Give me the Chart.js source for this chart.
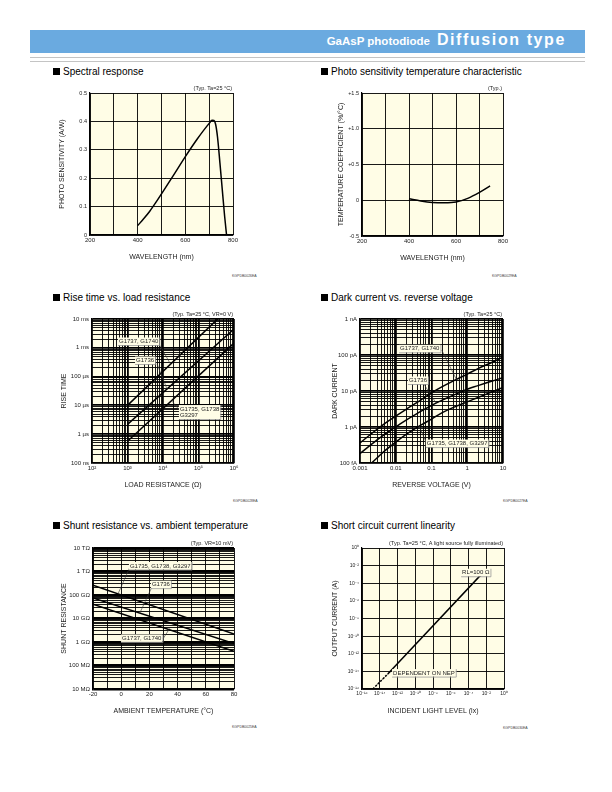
<!DOCTYPE html>
<html lang="en">
<head>
<meta charset="UTF-8">
<title>GaAsP photodiode - Diffusion type</title>
<script src="https://cdn.jsdelivr.net/npm/chart.js"></script>
<style>
  body { margin: 0; background: #fff; font-family: "Liberation Sans", Arial, sans-serif; }
  #page { position: relative; width: 612px; height: 792px; overflow: hidden; }
  .band { position: absolute; left: 30px; top: 30px; width: 555px; height: 23px; background: #6aaae0; }
  .band .txt { position: absolute; right: 19px; bottom: 4px; color: #fff; font-weight: bold; white-space: nowrap; }
  .band .sm { font-size: 11.5px; margin-right: 7px; }
  .band .lg { font-size: 16px; letter-spacing: 1.6px; }
  .rule { position: absolute; left: 30px; width: 555px; height: 1px; background: #c4c4c4; }
  .ttl { position: absolute; font-size: 10px; line-height: 10px; color: #000; white-space: nowrap; }
  .ttl i { position: absolute; left: -10px; top: 1px; width: 7px; height: 7px; background: #000; }
  .code { position: absolute; font-size: 3.5px; color: #444; white-space: nowrap; }
  canvas { position: absolute; }
</style>
</head>
<body>
<div id="page">
  <div class="band"><div class="txt"><span class="sm">GaAsP photodiode</span><span class="lg">Diffusion type</span></div></div>
  <div class="rule" style="top:57px"></div>
  <div class="rule" style="top:61px"></div>

  <div class="ttl" style="left:63px;top:66.5px"><i></i>Spectral response</div>
  <div class="ttl" style="left:331px;top:66.5px"><i></i>Photo sensitivity temperature characteristic</div>
  <div class="ttl" style="left:63px;top:292.5px"><i></i>Rise time vs. load resistance</div>
  <div class="ttl" style="left:331px;top:292.5px"><i></i>Dark current vs. reverse voltage</div>
  <div class="ttl" style="left:63px;top:520.5px"><i></i>Shunt resistance vs. ambient temperature</div>
  <div class="ttl" style="left:331px;top:520.5px"><i></i>Short circuit current linearity</div>

  <canvas id="spectral"></canvas>
  <canvas id="tempco"></canvas>
  <canvas id="rise"></canvas>
  <canvas id="dark"></canvas>
  <canvas id="shunt"></canvas>
  <canvas id="linear"></canvas>

  <div class="code" style="left:232px;top:274px">KGPDB0026EA</div>
  <div class="code" style="left:492px;top:274px">KGPDB0029EA</div>
  <div class="code" style="left:233px;top:499px">KGPDB0028EA</div>
  <div class="code" style="left:503px;top:499px">KGPDB0027EA</div>
  <div class="code" style="left:232px;top:725px">KGPDB0025EA</div>
  <div class="code" style="left:503px;top:726px">KGPDB0030EA</div>
</div>

<script>
// ---- spectral response ----
const spectralWl = [400, 425, 450, 475, 500, 550, 600, 650, 700, 712, 720, 727, 735, 745, 755, 765, 773];
const spectralSens = [0.033, 0.057, 0.083, 0.113, 0.145, 0.21, 0.276, 0.338, 0.393, 0.404, 0.403, 0.39, 0.345, 0.255, 0.16, 0.065, 0];
const spectralXTicks = [200, 300, 400, 500, 600, 700, 800];
const spectralXLabels = ['200', '', '400', '', '600', '', '800'];
const spectralYTicks = [0, 0.1, 0.2, 0.3, 0.4, 0.5];
const spectralYLabels = ['0', '0.1', '0.2', '0.3', '0.4', '0.5'];

// ---- temperature coefficient ----
const tempcoWl = [400, 450, 500, 550, 600, 650, 700, 745];
const tempcoVal = [0.02, -0.01, -0.03, -0.035, -0.025, 0.027, 0.11, 0.2];
const tempcoXTicks = [200, 300, 400, 500, 600, 700, 800];
const tempcoXLabels = ['200', '', '400', '', '600', '', '800'];
const tempcoYTicks = [-0.5, 0, 0.5, 1.0, 1.5];
const tempcoYLabels = ['-0.5', '0', '+0.5', '+1.0', '+1.5'];

// ---- rise time vs load resistance ----
const riseLoad = [1e3, 1e6];
const riseG1737 = [1e-5, 3.5e-2];
const riseG1736 = [2.2e-6, 4.5e-3];
const riseG1735 = [5.7e-7, 1.45e-3];
const riseXLabels = ['10\u00b2', '10\u00b3', '10\u2074', '10\u2075', '10\u2076'];
const riseYLabels = ['100 ns', '1 \u00b5s', '10 \u00b5s', '100 \u00b5s', '1 ms', '10 ms'];

// ---- dark current vs reverse voltage ----
const darkV = [0.001, 0.002, 0.005, 0.01, 0.02, 0.05, 0.1, 0.2, 0.5, 1, 2, 5, 10];
const darkG1737 = [3.6e-13, 6.3e-13, 1.26e-12, 2.0e-12, 3.16e-12, 5.6e-12, 8.9e-12, 1.32e-11, 2.1e-11, 2.95e-11, 4.2e-11, 6.3e-11, 8.9e-11];
const darkG1736 = [1.82e-13, 3.2e-13, 6.3e-13, 1.0e-12, 1.58e-12, 2.7e-12, 4.0e-12, 5.6e-12, 8.3e-12, 1.12e-11, 1.41e-11, 1.9e-11, 2.35e-11];
const darkVLow = [0.0021, 0.005, 0.01, 0.02, 0.05, 0.1, 0.2, 0.5, 1, 2, 5, 10];
const darkG1735 = [1.0e-13, 2.2e-13, 3.8e-13, 6.3e-13, 1.12e-12, 1.66e-12, 2.5e-12, 3.8e-12, 5.0e-12, 6.6e-12, 9.5e-12, 1.26e-11];
const darkXLabels = ['0.001', '0.01', '0.1', '1', '10'];
const darkYLabels = ['100 fA', '1 pA', '10 pA', '100 pA', '1 nA'];

// ---- shunt resistance vs ambient temperature ----
const shuntTemp = [-20, 80];
const shuntG1735 = [2.6e11, 2.2e9];
const shuntG1736 = [7.4e10, 8.5e8];
const shuntG1737 = [4.1e10, 4.0e8];
const shuntXTicks = [-20, -10, 0, 10, 20, 30, 40, 50, 60, 70, 80];
const shuntXLabels = ['-20', '', '0', '', '20', '', '40', '', '60', '', '80'];
const shuntYLabels = ['10 M\u03a9', '100 M\u03a9', '1 G\u03a9', '10 G\u03a9', '100 G\u03a9', '1 T\u03a9', '10 T\u03a9'];

// ---- short circuit current linearity ----
const linLight = [7.9e-14, 1.6e-3, 5e-3, 1.26e-2];
const linCurrent = [5e-15, 5.6e-4, 1.2e-3, 1.8e-3];
const linNepLight = [1.7e-15, 7.9e-14];
const linNepCurrent = [1e-16, 5e-15];
const linNepEdgeLight = [3.5e-15, 2.2e-13];
const linNepEdgeCurrent = [2.2e-16, 1.2e-14];
const linXLabels = ['10\u207b\u00b9\u2076', '10\u207b\u00b9\u2074', '10\u207b\u00b9\u00b2', '10\u207b\u00b9\u2070', '10\u207b\u2078', '10\u207b\u2076', '10\u207b\u2074', '10\u207b\u00b2', '10\u2070'];
const linYLabels = linXLabels;

// ---- helpers ----
const CREAM = '#fffde6';
const FONT = '"Liberation Sans", Arial, sans-serif';
const PT = 14, PR = 16, XH = 26;
Chart.defaults.font.family = FONT;
Chart.defaults.color = '#222';
Chart.defaults.animation = false;

const isDecade = v => Math.abs(Math.log10(v) - Math.round(Math.log10(v))) < 1e-6;

// 1..9 x 10^n grid values for a log axis
function logTicks(lo, hi) {
  const t = [];
  for (let e = lo; e < hi; e++) {
    for (let m = 1; m < 10; m++) t.push(m * Math.pow(10, e));
  }
  t.push(Math.pow(10, hi));
  return t;
}
function decadeLabels(ticks, lo, labels) {
  return ticks.map(v => isDecade(v) ? labels[Math.round(Math.log10(v)) - lo] : '');
}

function place(id, box) {
  const c = document.getElementById(id);
  const w = box.yw + (box.R - box.L) + PR;
  const h = PT + (box.B - box.T) + XH;
  c.width = w; c.height = h;
  c.style.width = w + 'px'; c.style.height = h + 'px';
  c.style.left = (box.L - box.yw) + 'px';
  c.style.top = (box.T - PT) + 'px';
  return c;
}

function axis(o) {
  return {
    type: o.type || 'linear',
    min: o.min, max: o.max,
    title: { display: true, text: o.title, font: { size: 7 }, padding: 0, color: '#222' },
    border: { color: '#000', width: 1.2 },
    grid: { color: '#000', drawTicks: false, lineWidth: o.lw || 0.9 },
    ticks: {
      font: { size: o.fs || 6 }, padding: o.pad, autoSkip: false, maxRotation: 0, minRotation: 0,
      color: '#222', callback: (v, i) => o.labels[i]
    },
    afterBuildTicks: sc => { sc.ticks = o.ticks.map(v => ({ value: v })); },
    afterFit: sc => { if (sc.isHorizontal()) sc.height = XH; else sc.width = o.size; }
  };
}

const decadeWidth = (thick, thin) => c => (c.tick && isDecade(c.tick.value)) ? thick : thin;

// cream plot area, top note and curve labels
const paper = {
  id: 'paper',
  beforeDraw(chart) {
    const { ctx, chartArea: a } = chart;
    ctx.save();
    ctx.fillStyle = CREAM;
    ctx.fillRect(a.left, a.top, a.right - a.left, a.bottom - a.top);
    ctx.restore();
  },
  afterDatasetsDraw(chart, args, o) {
    const { ctx, chartArea: a } = chart;
    const sx = chart.scales.x, sy = chart.scales.y;
    ctx.save();
    if (o.note) {
      ctx.font = '5.5px ' + FONT;
      ctx.fillStyle = '#222';
      ctx.textAlign = 'right';
      ctx.textBaseline = 'alphabetic';
      ctx.fillText(o.note, a.right - 1, a.top - 3);
    }
    (o.labels || []).forEach(l => {
      ctx.font = '6px ' + FONT;
      ctx.textAlign = 'left';
      ctx.textBaseline = 'top';
      const x = sx.getPixelForValue(l.x), y = sy.getPixelForValue(l.y);
      const w = Math.max(...l.text.map(t => ctx.measureText(t).width));
      const h = l.text.length * 6.5;
      if (l.to) {
        ctx.strokeStyle = '#333';
        ctx.lineWidth = 0.6;
        ctx.beginPath();
        ctx.moveTo(sx.getPixelForValue(l.from.x), sy.getPixelForValue(l.from.y));
        ctx.lineTo(sx.getPixelForValue(l.to.x), sy.getPixelForValue(l.to.y));
        ctx.stroke();
      }
      ctx.fillStyle = CREAM;
      ctx.fillRect(x - 1, y - 1, w + 2, h + 1);
      ctx.strokeStyle = '#999';
      ctx.lineWidth = 0.8;
      ctx.beginPath();
      ctx.moveTo(x - 1, y + h + 0.5);
      ctx.lineTo(x + w + 1.5, y + h + 0.5);
      ctx.lineTo(x + w + 1.5, y - 1);
      ctx.stroke();
      ctx.fillStyle = '#222';
      l.text.forEach((t, i) => ctx.fillText(t, x, y + i * 6.5));
    });
    ctx.restore();
  }
};

function line(xs, ys, extra) {
  return Object.assign({
    data: xs.map((x, i) => ({ x, y: ys[i] })),
    borderColor: '#000', borderWidth: 1.5, pointRadius: 0, fill: false
  }, extra || {});
}

function build(id, box, datasets, x, y, note, labels) {
  const c = place(id, box);
  new Chart(c.getContext('2d'), {
    type: 'line',
    data: { datasets },
    options: {
      responsive: false,
      layout: { padding: { left: 0, top: PT, right: PR, bottom: 0 } },
      plugins: { legend: { display: false }, tooltip: { enabled: false }, paper: { note, labels } },
      scales: { x, y }
    },
    plugins: [paper]
  });
}

// ---- 1. spectral response ----
build('spectral', { L: 90, T: 93, R: 233, B: 235, yw: 32 },
  [line(spectralWl, spectralSens, { cubicInterpolationMode: 'monotone' })],
  axis({ min: 200, max: 800, ticks: spectralXTicks, labels: spectralXLabels, title: 'WAVELENGTH (nm)', pad: 2 }),
  axis({ min: 0, max: 0.5, ticks: spectralYTicks, labels: spectralYLabels, title: 'PHOTO SENSITIVITY (A/W)', pad: 3, size: 32, fs: 5.5 }),
  '(Typ. Ta=25 \u00b0C)', []);

// ---- 2. temperature coefficient ----
build('tempco', { L: 362, T: 93, R: 503, B: 236, yw: 25 },
  [line(tempcoWl, tempcoVal, { cubicInterpolationMode: 'monotone' })],
  axis({ min: 200, max: 800, ticks: tempcoXTicks, labels: tempcoXLabels, title: 'WAVELENGTH (nm)', pad: 2 }),
  axis({ min: -0.5, max: 1.5, ticks: tempcoYTicks, labels: tempcoYLabels, title: 'TEMPERATURE COEFFICIENT (%/\u00b0C)', pad: 3, size: 25, fs: 5.5 }),
  '(Typ.)', []);

// ---- 3. rise time ----
const riseXT = logTicks(2, 6), riseYT = logTicks(-7, -2);
build('rise', { L: 92, T: 319, R: 234, B: 463, yw: 32 },
  [line(riseLoad, riseG1737), line(riseLoad, riseG1736), line(riseLoad, riseG1735)],
  Object.assign(axis({ type: 'logarithmic', min: 1e2, max: 1e6, ticks: riseXT, labels: decadeLabels(riseXT, 2, riseXLabels), title: 'LOAD RESISTANCE (\u03a9)', pad: 2 }),
    { grid: { color: '#000', drawTicks: false, lineWidth: decadeWidth(1.8, 0.9) } }),
  Object.assign(axis({ type: 'logarithmic', min: 1e-7, max: 1e-2, ticks: riseYT, labels: decadeLabels(riseYT, -7, riseYLabels), title: 'RISE TIME', pad: 3, size: 32 }),
    { grid: { color: '#000', drawTicks: false, lineWidth: decadeWidth(1.8, 0.9) } }),
  '(Typ. Ta=25 \u00b0C, VR=0 V)',
  [
    { text: ['G1737, G1740'], x: 575, y: 2.1e-3, from: { x: 8300, y: 1.2e-3 }, to: { x: 1.6e4, y: 2.8e-4 } },
    { text: ['G1736'], x: 1740, y: 4.6e-4, from: { x: 6800, y: 2.75e-4 }, to: { x: 1.3e4, y: 3.7e-5 } },
    { text: ['G1735, G1738', 'G3297'], x: 3.0e4, y: 9.5e-6, from: { x: 3.0e4, y: 6.5e-6 }, to: { x: 1.8e4, y: 1.4e-5 } }
  ]);

// ---- 4. dark current ----
const darkXT = logTicks(-3, 1), darkYT = logTicks(-13, -9);
build('dark', { L: 360, T: 319, R: 503, B: 463, yw: 29 },
  [line(darkV, darkG1737, { tension: 0.4 }), line(darkV, darkG1736, { tension: 0.4 }), line(darkVLow, darkG1735, { tension: 0.4 })],
  Object.assign(axis({ type: 'logarithmic', min: 1e-3, max: 10, ticks: darkXT, labels: decadeLabels(darkXT, -3, darkXLabels), title: 'REVERSE VOLTAGE (V)', pad: 2 }),
    { grid: { color: '#000', drawTicks: false, lineWidth: decadeWidth(1.8, 0.9) } }),
  Object.assign(axis({ type: 'logarithmic', min: 1e-13, max: 1e-9, ticks: darkYT, labels: decadeLabels(darkYT, -13, darkYLabels), title: 'DARK CURRENT', pad: 3, size: 29 }),
    { grid: { color: '#000', drawTicks: false, lineWidth: decadeWidth(1.8, 0.9) } }),
  '(Typ. Ta=25 \u00b0C)',
  [
    { text: ['G1737, G1740'], x: 0.0132, y: 1.8e-10, from: { x: 0.193, y: 1.38e-10 }, to: { x: 0.507, y: 2.0e-11 } },
    { text: ['G1736'], x: 0.0234, y: 2.37e-11, from: { x: 0.06, y: 1.6e-11 }, to: { x: 0.135, y: 4.6e-12 } },
    { text: ['G1735, G1738, G3297'], x: 0.074, y: 4.2e-13, from: { x: 0.074, y: 3.4e-13 }, to: { x: 0.045, y: 1.07e-12 } }
  ]);

// ---- 5. shunt resistance ----
const shuntYT = logTicks(7, 13);
build('shunt', { L: 93, T: 548, R: 234, B: 689, yw: 33 },
  [line(shuntTemp, shuntG1735), line(shuntTemp, shuntG1736), line(shuntTemp, shuntG1737)],
  axis({ min: -20, max: 80, ticks: shuntXTicks, labels: shuntXLabels, title: 'AMBIENT TEMPERATURE (\u00b0C)', pad: 2 }),
  Object.assign(axis({ type: 'logarithmic', min: 1e7, max: 1e13, ticks: shuntYT, labels: decadeLabels(shuntYT, 7, shuntYLabels), title: 'SHUNT RESISTANCE', pad: 3, size: 33 }),
    { grid: { color: '#000', drawTicks: false, lineWidth: decadeWidth(2.5, 0.9) } }),
  '(Typ. VR=10 mV)',
  [
    { text: ['G1735, G1738, G3297'], x: 6.2, y: 2.3e12, from: { x: 6.2, y: 1.55e12 }, to: { x: -2.3, y: 1.1e11 } },
    { text: ['G1736'], x: 21.8, y: 3.7e11, from: { x: 21.8, y: 2.2e11 }, to: { x: 13.1, y: 1.66e10 } },
    { text: ['G1737, G1740'], x: 0.6, y: 1.9e9, from: { x: 29.6, y: 1.35e9 }, to: { x: 34.4, y: 3.8e9 } }
  ]);

// ---- 6. linearity ----
const linT = [1e-16, 1e-14, 1e-12, 1e-10, 1e-8, 1e-6, 1e-4, 1e-2, 1];
build('linear', { L: 362, T: 548, R: 504, B: 689, yw: 31 },
  [
    line(linLight, linCurrent),
    line(linNepLight, linNepCurrent, { borderDash: [2, 1.5] }),
    line(linNepEdgeLight, linNepEdgeCurrent, { borderWidth: 0.6, borderColor: '#333' })
  ],
  axis({ type: 'logarithmic', min: 1e-16, max: 1, ticks: linT, labels: linXLabels, title: 'INCIDENT LIGHT LEVEL (lx)', pad: 2, fs: 5 }),
  axis({ type: 'logarithmic', min: 1e-16, max: 1, ticks: linT, labels: linYLabels.slice(), title: 'OUTPUT CURRENT (A)', pad: 3, size: 31, fs: 5 }),
  '(Typ. Ta=25 \u00b0C, A light source fully illuminated)',
  [
    { text: ['RL=100 \u03a9'], x: 1.9e-5, y: 3.4e-3, from: { x: 1.2e-3, y: 1.8e-3 }, to: { x: 1.26e-2, y: 1.8e-3 } },
    { text: ['DEPENDENT ON NEP'], x: 3.2e-13, y: 1.4e-14 }
  ]);
</script>
</body>
</html>
